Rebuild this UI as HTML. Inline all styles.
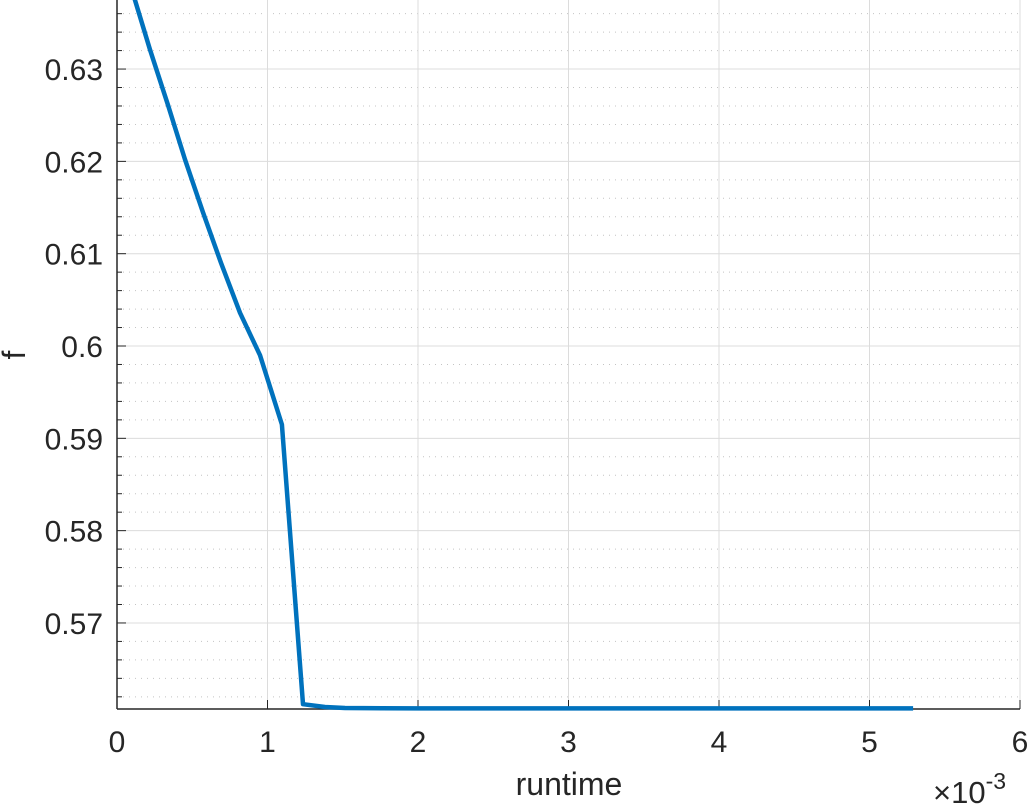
<!DOCTYPE html>
<html><head><meta charset="utf-8"><style>
body{margin:0;background:#fff;}
svg text{font-family:"Liberation Sans",sans-serif;fill:#262626;}
</style></head><body>
<svg id="chart" width="1032" height="807" xmlns="http://www.w3.org/2000/svg">
<g id="grid"></g>
<g id="axes"></g>
<path id="line" fill="none" stroke="#0072BD" stroke-width="4.5" stroke-linejoin="round"/>
<text x="569" y="795" font-size="32" text-anchor="middle">runtime</text>
<text x="0" y="0" font-size="32" text-anchor="middle" transform="translate(25,355) rotate(-90)">f</text>
<text x="933" y="803" font-size="31">×10<tspan font-size="23" dy="-14">-3</tspan></text>
</svg>
<script>
const xVals=[0.10,0.219,0.339,0.452,0.571,0.691,0.817,0.950,1.096,1.236,1.382,1.515,2.0,3.0,4.0,5.29];
const yVals=[0.6385,0.6321,0.6261,0.6202,0.6145,0.6090,0.6036,0.5990,0.5915,0.5612,0.56090,0.56079,0.56075,0.56075,0.56075,0.56075];
const xTicks=[0,1,2,3,4,5,6];
const yTicks=[0.57,0.58,0.59,0.60,0.61,0.62,0.63];
const yTickLabels=["0.57","0.58","0.59","0.6","0.61","0.62","0.63"];
const L=117,R=1020,T=0,B=709;
const xMin=0,xMax=6,yMin=0.56068,yMax=0.63748;
const sx=v=>L+(v-xMin)/(xMax-xMin)*(R-L);
const sy=v=>B-(v-yMin)/(yMax-yMin)*(B-T);
const NS="http://www.w3.org/2000/svg";
const grid=document.getElementById('grid'),axes=document.getElementById('axes');
function mk(tag,attrs,parent){const e=document.createElementNS(NS,tag);for(const k in attrs)e.setAttribute(k,attrs[k]);parent.appendChild(e);return e;}
for(let k=278;k<=320;k++){
  if(k%5===0)continue;
  const v=k*0.002;
  const y=sy(v);if(y<T||y>B-2)continue;
  const ln=mk('line',{x1:L,x2:R,y1:y,y2:y,stroke:'#c4c4c4','stroke-width':1,'stroke-dasharray':'1 5'},grid);
  
  
  const tk=mk('line',{x1:L,x2:L+5,y1:y,y2:y,stroke:'#262626','stroke-width':1},axes);
  
  
}
yTicks.forEach((v,i)=>{
  const y=sy(v);
  const g=mk('line',{x1:L,x2:R,y1:y,y2:y,stroke:'#dcdcdc','stroke-width':1},grid);
  
  
  const tk=mk('line',{x1:L,x2:L+9,y1:y,y2:y,stroke:'#262626','stroke-width':1},axes);
  
  
  const t=mk('text',{x:L-14,y:y+11,'font-size':30,'text-anchor':'end'},axes);
  t.textContent=yTickLabels[i];
  
  
});
xTicks.forEach(v=>{
  const x=sx(v);
  const g=mk('line',{x1:x,x2:x,y1:T,y2:B,stroke:'#dcdcdc','stroke-width':1},grid);
  
  
  const tk=mk('line',{x1:x,x2:x,y1:B,y2:B-9,stroke:'#262626','stroke-width':1},axes);
  
  
  const t=mk('text',{x:x,y:B+43,'font-size':30,'text-anchor':'middle'},axes);
  t.textContent=String(v);
  
  
});
const xa=mk('line',{x1:L,x2:R,y1:B,y2:B,stroke:'#262626','stroke-width':1.5},axes);


const ya=mk('line',{x1:L,x2:L,y1:T,y2:B,stroke:'#262626','stroke-width':1.5},axes);


document.getElementById('line').setAttribute('d',xVals.map((v,i)=>(i?'L':'M')+sx(v).toFixed(1)+','+sy(yVals[i]).toFixed(1)).join(''));
</script>
</body></html>
